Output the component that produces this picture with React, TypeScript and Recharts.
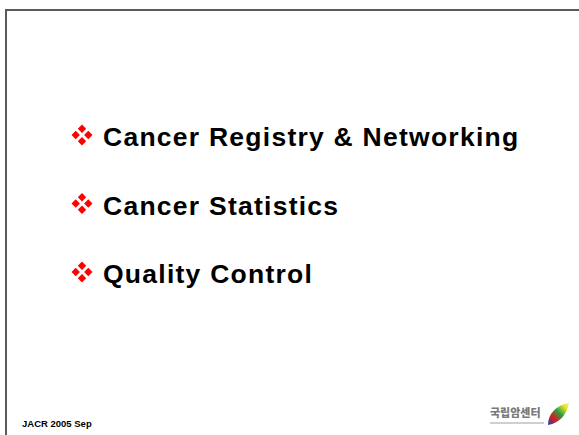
import React from "react";
import { ScatterChart, Scatter, XAxis, YAxis } from "recharts";

const topics = ["Cancer Registry & Networking", "Cancer Statistics", "Quality Control"];
const rows = [0, 1, 2];

const data = topics.map((label, i) => ({ x: 0, y: rows[i], label }));

const Bullet = (props: any) => {
  const { cx, cy, payload } = props;
  const d = 6.3;
  const r = 4.2;
  const diamond = (x: number, y: number) =>
    `${x},${y - r} ${x + r},${y} ${x},${y + r} ${x - r},${y}`;
  return (
    <g>
      <polygon points={diamond(cx, cy - d)} fill="#ff0000" />
      <polygon points={diamond(cx - d, cy)} fill="#ff0000" />
      <polygon points={diamond(cx + d, cy)} fill="#ff0000" />
      <polygon points={diamond(cx, cy + d)} fill="#ff0000" />
      <text
        x={cx + 21}
        y={cy + 11}
        fontFamily="Liberation Sans, Arial, sans-serif"
        fontWeight="bold"
        fontSize={26.5}
        letterSpacing={1.25}
        fill="#000"
      >
        {payload.label}
      </text>
    </g>
  );
};

export default function App() {
  return (
    <div style={{ position: "absolute", left: 0, top: 0, width: 579, height: 435, background: "#fff", overflow: "hidden" }}>
      <div
        style={{
          position: "absolute",
          left: 5,
          top: 9,
          width: 600,
          height: 500,
          borderLeft: "2px solid #5a5a5a",
          borderTop: "2px solid #5a5a5a",
        }}
      />
      <ScatterChart width={579} height={435} margin={{ top: 135, bottom: 163, left: 82, right: 397 }}>
        <XAxis type="number" dataKey="x" domain={[0, 1]} hide />
        <YAxis type="number" dataKey="y" domain={[0, 2]} reversed hide />
        <Scatter data={data} shape={<Bullet />} isAnimationActive={false} />
      </ScatterChart>
      <div
        style={{
          position: "absolute",
          left: 22,
          top: 418,
          fontFamily: "Liberation Sans, Arial, sans-serif",
          fontWeight: "bold",
          fontSize: 9.5,
          color: "#000",
        }}
      >
        JACR 2005 Sep
      </div>
      <div
        style={{
          position: "absolute",
          left: 490,
          top: 405,
          fontFamily: "Noto Sans CJK KR, sans-serif",
          fontWeight: 900,
          fontSize: 11,
          color: "#7a7a7a",
          lineHeight: "14px",
        }}
      >
        국립암센터
      </div>
      <div style={{ position: "absolute", left: 490, top: 422, width: 54, height: 2, background: "#cfcfcf" }} />
      <svg style={{ position: "absolute", left: 544, top: 400 }} width={28} height={28}>
        <defs>
          <linearGradient id="leaf" x1="0" y1="1" x2="1" y2="0">
            <stop offset="0" stopColor="#1f3fb0" />
            <stop offset="0.3" stopColor="#d42020" />
            <stop offset="0.55" stopColor="#2aa040" />
            <stop offset="0.8" stopColor="#e8e020" />
            <stop offset="1" stopColor="#f5f0a0" />
          </linearGradient>
        </defs>
        <path d="M4,25 C4,14 12,5 25,3 C23,14 16,23 4,25 Z" fill="url(#leaf)" />
      </svg>
    </div>
  );
}
